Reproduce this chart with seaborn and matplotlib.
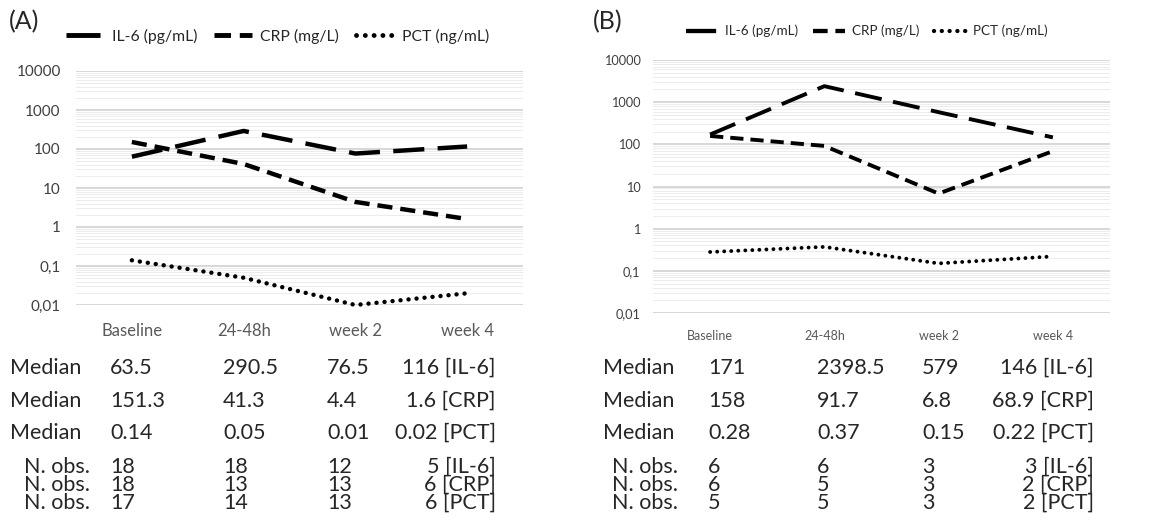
#! /usr/bin/env python3

# %% Setup
import pandas as pd
import matplotlib.pyplot as plt
import seaborn as sns
from matplotlib.ticker import FixedLocator, LogLocator, NullFormatter

sns.set_style("white")
plt.rcParams["font.family"] = ["Lato", "DejaVu Sans"]

timepoints = ["Baseline", "24-48h", "week 2", "week 4"]
markers = ["IL-6", "CRP", "PCT"]
legend_labels = ["IL-6 (pg/mL)", "CRP (mg/L)", "PCT (ng/mL)"]

# panel A medians
a_il6 = [63.5, 290.5, 76.5, 116]
a_crp = [151.3, 41.3, 4.4, 1.6]
a_pct = [0.14, 0.05, 0.01, 0.02]
# panel A number of observations
a_n_il6 = [18, 18, 12, 5]
a_n_crp = [18, 13, 13, 6]
a_n_pct = [17, 14, 13, 6]

# panel B medians
b_il6 = [171, 2398.5, 579, 146]
b_crp = [158, 91.7, 6.8, 68.9]
b_pct = [0.28, 0.37, 0.15, 0.22]
# panel B number of observations
b_n_il6 = [6, 6, 3, 3]
b_n_crp = [6, 5, 3, 2]
b_n_pct = [5, 5, 3, 2]

yticks = [0.01, 0.1, 1, 10, 100, 1000, 10000]
yticklabels = ["0,01", "0,1", "1", "10", "100", "1000", "10000"]


def long_df(il6, crp, pct):
    rows = []
    for name, vals in zip(legend_labels, [il6, crp, pct]):
        for t, v in zip(timepoints, vals):
            rows.append({"time": t, "value": v, "marker": name})
    return pd.DataFrame(rows)


dashes = {
    legend_labels[0]: (7, 3),
    legend_labels[1]: (3.4, 1.8),
    legend_labels[2]: (0.01, 1.8),
}

fig = plt.figure(figsize=(11.56, 5.23), dpi=100)


# %% Panels
def panel(rect, df, lw, tick_fs, xtick_fs, xpad, ypad, leg_fs, leg_anchor):
    ax = fig.add_axes(rect)
    sns.lineplot(
        data=df, x="time", y="value", style="marker", dashes=dashes,
        color="black", linewidth=lw, ax=ax, sort=False,
    )
    for line in ax.lines:
        line.set_clip_on(False)
    # dotted PCT line gets round dots
    ax.lines[2].set_dash_capstyle("round")
    ax.set_yscale("log")
    ax.set_ylim(0.01, 10000)
    ax.set_xlim(-0.5, 3.5)
    ax.yaxis.set_major_locator(FixedLocator(yticks))
    ax.set_yticklabels(yticklabels)
    ax.yaxis.set_minor_locator(LogLocator(base=10, subs=range(2, 10)))
    ax.yaxis.set_minor_formatter(NullFormatter())
    ax.grid(which="major", axis="y", color="#d4d4d4", linewidth=1.3)
    ax.grid(which="minor", axis="y", color="#ececec", linewidth=0.7)
    ax.grid(which="both", axis="x", visible=False)
    sns.despine(ax=ax, left=True, bottom=True)
    ax.tick_params(axis="y", which="both", length=0, pad=ypad,
                   labelsize=tick_fs, labelcolor="#404040")
    ax.tick_params(axis="x", length=0, pad=xpad, labelsize=xtick_fs,
                   labelcolor="#595959")
    ax.set_xlabel("")
    ax.set_ylabel("")
    sns.move_legend(
        ax, "center left", bbox_to_anchor=leg_anchor,
        bbox_transform=fig.transFigure, ncol=3, frameon=False, title=None,
        fontsize=leg_fs, handlelength=2.4, columnspacing=1.1,
        handletextpad=0.5,
    )
    leg_lines = ax.get_legend().get_lines()
    for line in leg_lines:
        line.set_linewidth(lw + 0.3)
    leg_lines[2].set_dash_capstyle("round")
    return ax


ax_a = panel([76 / 1156, 1 - 305 / 523, 447 / 1156, 234 / 523],
             long_df(a_il6, a_crp, a_pct), 3.2, 11, 12, 13, 11, 11.3,
             (52 / 1156, 1 - 36 / 523))
ax_b = panel([653 / 1156, 1 - 313 / 523, 457 / 1156, 253 / 523],
             long_df(b_il6, b_crp, b_pct), 2.8, 9.2, 9, 12, 9, 9.7,
             (674 / 1156, 1 - 31 / 523))

fig.text(9 / 1156, 1 - 22 / 523, "(A)", fontsize=18, va="center")
fig.text(593 / 1156, 1 - 22 / 523, "(B)", fontsize=18, va="center")


# %% Tables below the charts
def table(x_label, x_nobs, x_cols, x_right, med, nobs):
    fs = 15.5
    med_y = [368, 401, 433]
    nobs_y = [467, 485, 503]
    for row, (vals, name) in enumerate(zip(med, markers)):
        y = 1 - med_y[row] / 523
        fig.text(x_label / 1156, y, "Median", fontsize=fs, va="center")
        for x, v in zip(x_cols, vals[:3]):
            fig.text(x / 1156, y, f"{v:g}", fontsize=fs, va="center")
        fig.text(x_right / 1156, y, f"{vals[3]:g} [{name}]", fontsize=fs,
                 va="center", ha="right")
    for row, (vals, name) in enumerate(zip(nobs, markers)):
        y = 1 - nobs_y[row] / 523
        fig.text(x_nobs / 1156, y, "N. obs.", fontsize=fs, va="center")
        for x, v in zip(x_cols, vals[:3]):
            fig.text(x / 1156, y, str(v), fontsize=fs, va="center")
        fig.text(x_right / 1156, y, f"{vals[3]} [{name}]", fontsize=fs,
                 va="center", ha="right")


table(10, 24, [110, 223, 327], 496,
      [a_il6, a_crp, a_pct], [a_n_il6, a_n_crp, a_n_pct])
table(603, 612, [708, 817, 922], 1094,
      [b_il6, b_crp, b_pct], [b_n_il6, b_n_crp, b_n_pct])

plt.savefig("out.png", dpi=100)
